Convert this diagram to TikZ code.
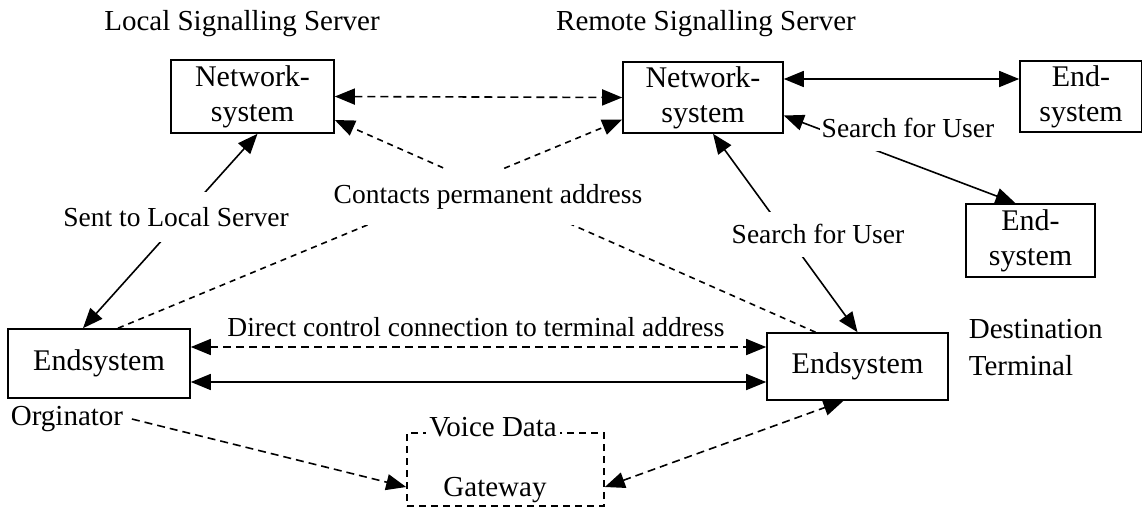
\documentclass[tikz,border=0pt]{standalone}
\usepackage{fontspec}
\setmainfont{Liberation Serif}
\usetikzlibrary{arrows.meta,positioning}
\tikzset{
  sysbox/.style={rectangle,draw=black,align=center,inner sep=0pt,font=\fontsize{30}{35}\selectfont},
  gwbox/.style={rectangle,draw=black,dash pattern=on 7pt off 5pt},
  txt/.style={inner sep=0pt,font=\fontsize{29}{37}\selectfont},
  conlbl/.style={fill=white,inner xsep=2pt,inner ysep=0pt,font=\fontsize{27.5}{30}\selectfont},
  dashlink/.style={dash pattern=on 8pt off 5pt},
  dotlink/.style={dash pattern=on 6pt off 5pt},
}

\begin{document}
\begin{tikzpicture}[x=1pt,y=-1pt,line width=1.6pt,>={Triangle[length=20pt,width=16pt]}]
% \draw[help lines] (0,0) grid (1142,507);
\useasboundingbox (0,0) rectangle (1142,507);
\node (titleL) [txt] at (242,24) {Local Signalling Server};
\node (titleR) [txt] at (706,24) {Remote Signalling Server};
\node (netL) [sysbox,minimum width=163pt,minimum height=73pt] at (252.5,96.5) {Network-\\system};
\node (netR) [sysbox,minimum width=160pt,minimum height=71pt] at (703,97.5) {Network-\\system};
\node (endTR) [sysbox,minimum width=122pt,minimum height=71pt] at (1081,96.5) {End-\\system};
\node (endBR) [sysbox,minimum width=129pt,minimum height=73pt] at (1030.5,240.5) {End-\\system};
\node (endL) [sysbox,minimum width=182pt,minimum height=69pt] at (99,363.5) {Endsystem};
\node (endR) [sysbox,minimum width=181pt,minimum height=67pt] at (857.5,366.5) {Endsystem};
\node (gw) [gwbox,minimum width=197pt,minimum height=73pt] at (505.5,469.5) {};
\node (orig) [txt] at (67,419) {Orginator};
\node (dest) [txt,align=left,anchor=west] at (968,348) {Destination\\Terminal};
%
\path[<->,dashlink] (netL.east) edge (netR.west);
\path[<->] ([yshift=18.5pt]netR.east) edge ([yshift=17.5pt]endTR.west);
\path[<->] ([yshift=-18pt]netR.east) edge ([xshift=-15pt]endBR.north);
\path[<->] ([xshift=10pt]netR.south) edge (endR.north);
\path[<->] ([xshift=5pt]netL.south) edge ([xshift=-16pt]endL.north);
%
\path[->,dotlink] ([xshift=19pt]endL.north) edge ([yshift=-22pt]netR.west);
\path[->,dotlink] ([xshift=-42pt]endR.north) edge ([yshift=-23.5pt]netL.east);
%
\path[<->,dashlink] ([yshift=16.5pt]endL.east) edge ([yshift=19.5pt]endR.west);
\path[<->] ([yshift=-18.5pt]endL.east) edge ([yshift=-15.5pt]endR.west);
\path[->,dashlink] ([xshift=8pt]orig.east) edge ([yshift=-17.5pt]gw.west);
\path[<->,dashlink] ([yshift=-17.5pt]gw.east) edge ([xshift=-14pt]endR.south);
%
\node (voice) [txt,fill=white,inner xsep=3pt] at (493,427) {Voice Data};
\node (gwtxt) [txt] at (495,490) {Gateway};
\node (lblSent) [conlbl,minimum height=50pt] at (176,217) {Sent to Local Server};
\node (lblCont) [conlbl,minimum height=56pt] at (488,197) {Contacts permanent address};
\node (lblSrch1) [conlbl,minimum height=46pt] at (908,128) {Search for User};
\node (lblSrch2) [conlbl,minimum height=45pt] at (818,234) {Search for User};
\node (lblDirect) [conlbl] at (476,327) {Direct control connection to terminal address};
\end{tikzpicture}
\end{document}
